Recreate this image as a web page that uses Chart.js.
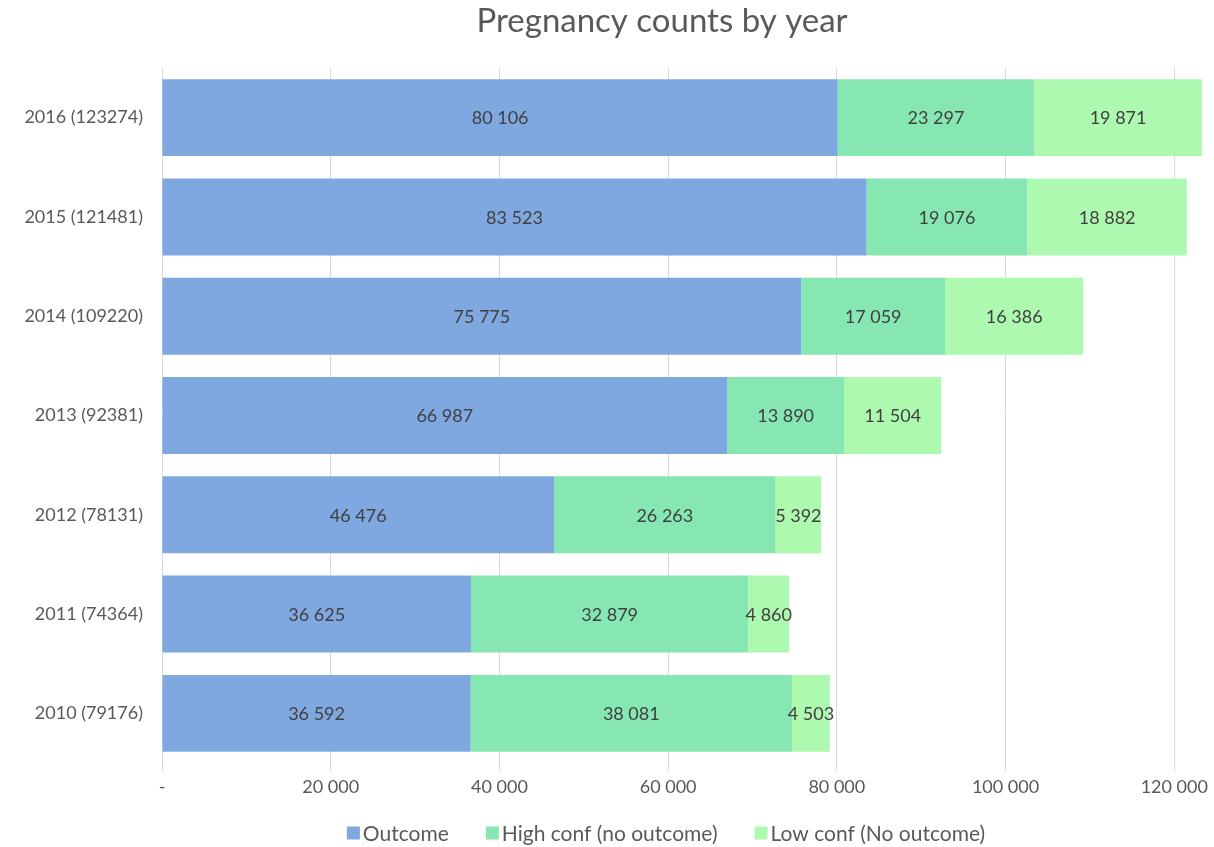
<!DOCTYPE html>
<html>
<head>
<meta charset="utf-8">
<script src="https://cdn.jsdelivr.net/npm/chart.js@4"></script>
<style>
  html, body { margin: 0; padding: 0; background: #ffffff; }
  #wrap { width: 1214px; height: 847px; position: relative; }
</style>
</head>
<body>
<div id="wrap"><canvas id="pregChart"></canvas></div>
<script>
// ========== data ==========
const years = ['2016 (123274)', '2015 (121481)', '2014 (109220)', '2013 (92381)', '2012 (78131)', '2011 (74364)', '2010 (79176)'];
const outcome = [80106, 83523, 75775, 66987, 46476, 36625, 36592];
const highConf = [23297, 19076, 17059, 13890, 26263, 32879, 38081];
const lowConf = [19871, 18882, 16386, 11504, 5392, 4860, 4503];
const xTicks = [0, 20000, 40000, 60000, 80000, 100000, 120000];
const chartTitle = 'Pregnancy counts by year';

const FONT = 'Lato, "Open Sans", sans-serif';

// space as thousands separator, "-" for zero
function fmt(v) {
    if (v === 0) return '-';
    return String(v).replace(/\B(?=(\d{3})+(?!\d))/g, ' ');
}

// labels centred in every segment
const segmentLabels = {
    id: 'segmentLabels',
    afterDatasetsDraw(chart) {
        const ctx = chart.ctx;
        ctx.save();
        ctx.font = '18px ' + FONT;
        ctx.fillStyle = '#404040';
        ctx.textAlign = 'center';
        ctx.textBaseline = 'middle';
        chart.data.datasets.forEach((ds, i) => {
            chart.getDatasetMeta(i).data.forEach((bar, j) => {
                const cx = (bar.x + bar.base) / 2;
                ctx.fillText(fmt(ds.data[j]), cx, bar.y + 1);
            });
        });
        ctx.restore();
    }
};

// title and legend drawn by hand, both sit a bit right of the canvas centre like in Excel
const titleAndLegend = {
    id: 'titleAndLegend',
    afterDraw(chart) {
        const ctx = chart.ctx;
        ctx.save();

        // title
        ctx.font = '33px ' + FONT;
        ctx.fillStyle = '#595959';
        ctx.textAlign = 'center';
        ctx.textBaseline = 'middle';
        ctx.fillText(chartTitle, 662, 21);

        // legend
        const box = 13, gap = 3, spacing = 37, y = 833;
        ctx.font = '21px ' + FONT;
        ctx.textAlign = 'left';
        const items = chart.data.datasets.map(ds => ({
            text: ds.label, color: ds.backgroundColor, w: ctx.measureText(ds.label).width
        }));
        const total = items.reduce((s, it) => s + box + gap + it.w, 0) + spacing * (items.length - 1);
        let x = 666 - total / 2;
        items.forEach(it => {
            ctx.fillStyle = it.color;
            ctx.fillRect(x, y - box / 2, box, box);
            ctx.fillStyle = '#595959';
            ctx.fillText(it.text, x + box + gap, y + 1);
            x += box + gap + it.w + spacing;
        });
        ctx.restore();
    }
};

const ctx = document.getElementById('pregChart').getContext('2d');
new Chart(ctx, {
    type: 'bar',
    data: {
        labels: years,
        datasets: [
            { label: 'Outcome', data: outcome, backgroundColor: '#7fa8e0' },
            { label: 'High conf (no outcome)', data: highConf, backgroundColor: '#86e7b3' },
            { label: 'Low conf (No outcome)', data: lowConf, backgroundColor: '#aef9b0' }
        ]
    },
    options: {
        indexAxis: 'y',
        responsive: true,
        maintainAspectRatio: false,
        animation: false,
        barPercentage: 0.775,
        categoryPercentage: 1,
        layout: { padding: { left: 10, right: 6, top: 68, bottom: 46 } },
        plugins: {
            title: { display: false },
            legend: { display: false },
            tooltip: { enabled: false }
        },
        scales: {
            x: {
                stacked: true,
                min: 0,
                max: 124000,
                afterBuildTicks: (axis) => { axis.ticks = xTicks.map(v => ({ value: v })); },
                ticks: {
                    color: '#595959',
                    font: { family: FONT, size: 18 },
                    padding: 5,
                    callback: (v) => fmt(v)
                },
                grid: { color: '#d9d9d9', drawTicks: true, tickLength: 8 },
                border: { display: false },
                afterFit: (axis) => { axis.height = 38; }
            },
            y: {
                stacked: true,
                ticks: {
                    color: '#595959',
                    font: { family: FONT, size: 18 },
                    padding: 11
                },
                grid: { display: false },
                border: { display: false },
                afterFit: (axis) => { axis.width = 152; }
            }
        }
    },
    plugins: [segmentLabels, titleAndLegend]
});
</script>
</body>
</html>
